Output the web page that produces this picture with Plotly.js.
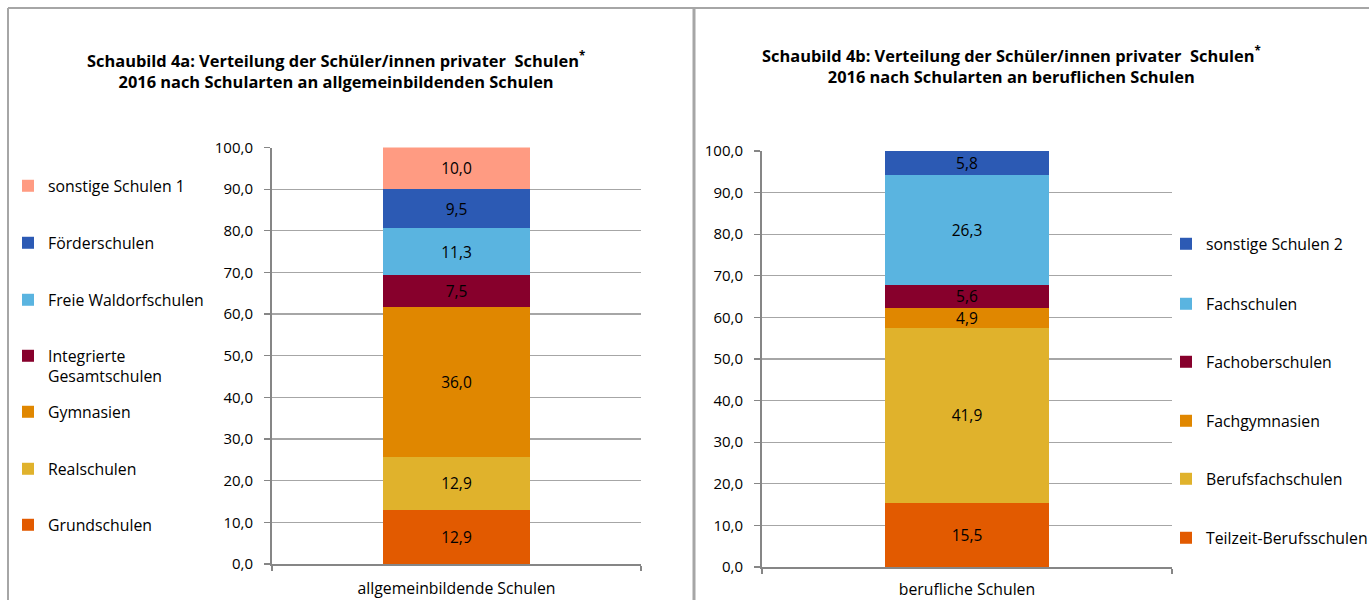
<!DOCTYPE html>
<html>
<head>
<meta charset="utf-8">
<script src="https://cdn.plot.ly/plotly-3.0.1.min.js"></script>
<style>
  html, body { margin: 0; padding: 0; background: #ffffff; overflow: hidden; }
  #chart { width: 1369px; height: 600px; }
</style>
</head>
<body>
<div id="chart"></div>
<script>
// ---------- data ----------
const leftCategories = ['allgemeinbildende Schulen'];
const leftSeries = ['Grundschulen', 'Realschulen', 'Gymnasien', 'Integrierte<br>Gesamtschulen', 'Freie Waldorfschulen', 'Förderschulen', 'sonstige Schulen 1'];
const leftValues = [12.9, 12.9, 36.0, 7.5, 11.3, 9.5, 10.0];
const leftColors = ['#E25A00', '#E0B22C', '#E08700', '#87002C', '#5AB4E0', '#2C5AB4', '#FF9B82'];

const rightCategories = ['berufliche Schulen'];
const rightSeries = ['Teilzeit-Berufsschulen', 'Berufsfachschulen', 'Fachgymnasien', 'Fachoberschulen', 'Fachschulen', 'sonstige Schulen 2'];
const rightValues = [15.5, 41.9, 4.9, 5.6, 26.3, 5.8];
const rightColors = ['#E25A00', '#E0B22C', '#E08700', '#87002C', '#5AB4E0', '#2C5AB4'];

const yTickValues = [0, 10, 20, 30, 40, 50, 60, 70, 80, 90, 100];

const titleLeft = 'Schaubild 4a: Verteilung der Schüler/innen privater\u00a0 Schulen<sup>*</sup><br>2016 nach Schularten an allgemeinbildenden Schulen';
const titleRight = 'Schaubild 4b: Verteilung der Schüler/innen privater\u00a0 Schulen<sup>*</sup><br>2016 nach Schularten an beruflichen Schulen';

// ---------- layout helpers (pixels -> paper) ----------
const W = 1369, H = 600;
const px = v => v / W;
const py = v => (H - v) / H;

const FONT = '"Open Sans", "Noto Sans", sans-serif';
const TFONT = '"Open Sans", "Noto Sans", sans-serif';
const FS = 15;
const LFS = 15.8;
const BFS = 15.5;

// legend slot positions (text centre y of first line, text left x)
const leftLegendY = [525, 469, 412, 366.5, 300, 243, 186];
const rightLegendY = [538, 479, 421, 362, 304, 244];
const leftLegendX = 8;
const rightLegendX = 1166;

const traces = [];
const layout = {
  width: W, height: H,
  margin: {l: 0, r: 0, t: 0, b: 0, autoexpand: false},
  paper_bgcolor: '#ffffff',
  plot_bgcolor: 'rgba(0,0,0,0)',
  barmode: 'stack',
  bargap: 0.6,
  separators: ',.',
  showlegend: true,
  font: {family: FONT, size: FS, color: '#000000'},
  shapes: [
    {type: 'line', xref: 'paper', yref: 'paper', x0: px(8), x1: 1, y0: py(8), y1: py(8), line: {color: '#A6A6A6', width: 2}},
    {type: 'line', xref: 'paper', yref: 'paper', x0: px(8), x1: px(8), y0: py(8), y1: 0, line: {color: '#A6A6A6', width: 2}},
    {type: 'line', xref: 'paper', yref: 'paper', x0: px(694), x1: px(694), y0: py(8), y1: 0, line: {color: '#A6A6A6', width: 3}}
  ],
  annotations: [
    {xref: 'paper', yref: 'paper', x: px(336), y: py(71), xanchor: 'center', yanchor: 'middle', align: 'center', showarrow: false,
     text: '<b>' + titleLeft.replace('<br>', '</b><br><b>') + '</b>', font: {family: TFONT, size: 16.4, color: '#000'}},
    {xref: 'paper', yref: 'paper', x: px(1011), y: py(65.5), xanchor: 'center', yanchor: 'middle', align: 'center', showarrow: false,
     text: '<b>' + titleRight.replace('<br>', '</b><br><b>') + '</b>', font: {family: TFONT, size: 16.4, color: '#000'}}
  ]
};

function axisY(domain, anchor) {
  return {
    domain: domain, anchor: anchor, range: [0, 100], autorange: false,
    tickvals: yTickValues, tickformat: '.1f',
    showgrid: true, gridcolor: '#A6A6A6', gridwidth: 1.3,
    showline: true, linecolor: '#868686', linewidth: 2,
    ticks: 'outside', ticklen: 6, tickcolor: '#868686', tickwidth: 1.3,
    ticklabelstandoff: 8,
    zeroline: false, fixedrange: true,
    tickfont: {family: FONT, size: FS, color: '#000'}
  };
}
function axisX(domain, anchor, standoff) {
  return {
    domain: domain, anchor: anchor, type: 'category',
    showgrid: false, showline: true, linecolor: '#868686', linewidth: 2,
    ticks: 'outside', tickson: 'boundaries', ticklen: 5, tickcolor: '#868686', tickwidth: 1.3,
    ticklabelstandoff: standoff,
    zeroline: false, fixedrange: true,
    tickfont: {family: FONT, size: LFS, color: '#000'}
  };
}

layout.xaxis = axisX([px(272), px(641)], 'y', 9);
layout.yaxis = axisY([py(564), py(147.5)], 'x');
layout.xaxis2 = axisX([px(762), px(1172)], 'y2', 7);
layout.yaxis2 = axisY([py(567), py(151)], 'x2');

let legendIndex = 0;
function addTraces(categories, series, values, colors, xa, ya, legendX, legendY) {
  series.forEach((name, i) => {
    legendIndex += 1;
    const key = legendIndex === 1 ? 'legend' : 'legend' + legendIndex;
    traces.push({
      type: 'bar', name: name,
      x: categories, y: [values[i]],
      xaxis: xa, yaxis: ya,
      marker: {color: colors[i], line: {width: 0}},
      texttemplate: '%{y:.1f}', textposition: 'inside', insidetextanchor: 'middle',
      textangle: 0, constraintext: 'none',
      textfont: {family: FONT, size: BFS, color: '#000'},
      hoverinfo: 'skip',
      showlegend: true,
      legend: key
    });
    layout[key] = {
      x: px(legendX), y: py(legendY[i]), xanchor: 'left', yanchor: 'middle',
      bgcolor: 'rgba(0,0,0,0)', borderwidth: 0,
      valign: 'top',
      font: {family: FONT, size: LFS, color: '#000'}
    };
  });
}

addTraces(leftCategories, leftSeries, leftValues, leftColors, 'x', 'y', leftLegendX, leftLegendY);
addTraces(rightCategories, rightSeries, rightValues, rightColors, 'x2', 'y2', rightLegendX, rightLegendY);

Plotly.newPlot('chart', traces, layout, {displayModeBar: false, staticPlot: true});
</script>
</body>
</html>
